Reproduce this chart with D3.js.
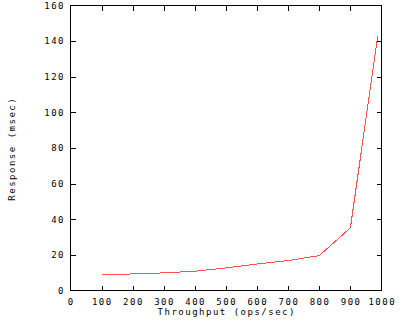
<!DOCTYPE html>
<html><head><meta charset="utf-8">
<script src="https://cdn.jsdelivr.net/npm/d3@7"></script>
<style>body{margin:0;background:#fff}svg{display:block}text{font-family:"DejaVu Sans Mono",monospace;font-size:9px;fill:#000;letter-spacing:1.5px}</style>
</head><body>
<script>
const throughput = [100, 200, 300, 400, 500, 600, 700, 800, 900, 988];
const response = [8.8, 9.3, 9.9, 10.8, 12.7, 14.9, 16.8, 19.6, 35.2, 142.8];
const xTicks = [0, 100, 200, 300, 400, 500, 600, 700, 800, 900, 1000];
const yTicks = [0, 20, 40, 60, 80, 100, 120, 140, 160];
const xTitle = "Throughput (ops/sec)";
const yTitle = "Response (msec)";

const W = 400, H = 320;
const L = 70.5, R = 381.5, T = 5.5, B = 290.5;
const svg = d3.select("body").append("svg").attr("width", W).attr("height", H);
const x = d3.scaleLinear().domain([0, 1000]).range([L, R]);
const y = d3.scaleLinear().domain([0, 160]).range([B, T]);
const tl = 5;

const g = svg.append("g").attr("shape-rendering", "crispEdges");
// ticks (inward, mirrored)
xTicks.forEach(v => {
  if (v === 0 || v === 1000) return;
  const px = Math.round(x(v)) + 0.5;
  g.append("line").attr("x1", px).attr("x2", px).attr("y1", B).attr("y2", B - tl).attr("stroke", "#000");
  g.append("line").attr("x1", px).attr("x2", px).attr("y1", T).attr("y2", T + tl).attr("stroke", "#000");
});
yTicks.forEach(v => {
  if (v === 0 || v === 160) return;
  const py = Math.round(y(v)) + 0.5;
  g.append("line").attr("x1", L).attr("x2", L + tl).attr("y1", py).attr("y2", py).attr("stroke", "#000");
  g.append("line").attr("x1", R).attr("x2", R - tl).attr("y1", py).attr("y2", py).attr("stroke", "#000");
});
// labels
xTicks.forEach(v => {
  svg.append("text").attr("x", x(v) + 0.75).attr("y", 304.5).attr("text-anchor", "middle").text(v);
});
yTicks.forEach(v => {
  svg.append("text").attr("x", 65).attr("y", y(v) + 3.3).attr("text-anchor", "end").text(v);
});
svg.append("text").attr("x", (L + R) / 2 + 0.75).attr("y", 315).attr("text-anchor", "middle").text(xTitle);
svg.append("text").attr("transform", `translate(15,${(T + B) / 2 + 0.75}) rotate(-90)`).attr("text-anchor", "middle").text(yTitle);

// data line
const line = d3.line().x((d, i) => x(throughput[i])).y(d => y(d));
svg.append("path").datum(response).attr("d", line).attr("fill", "none")
  .attr("stroke", "#ff5050").attr("stroke-width", 1).attr("shape-rendering", "crispEdges");

// border
g.append("rect").attr("x", L).attr("y", T).attr("width", R - L).attr("height", B - T)
  .attr("fill", "none").attr("stroke", "#000");
</script>
</body></html>
